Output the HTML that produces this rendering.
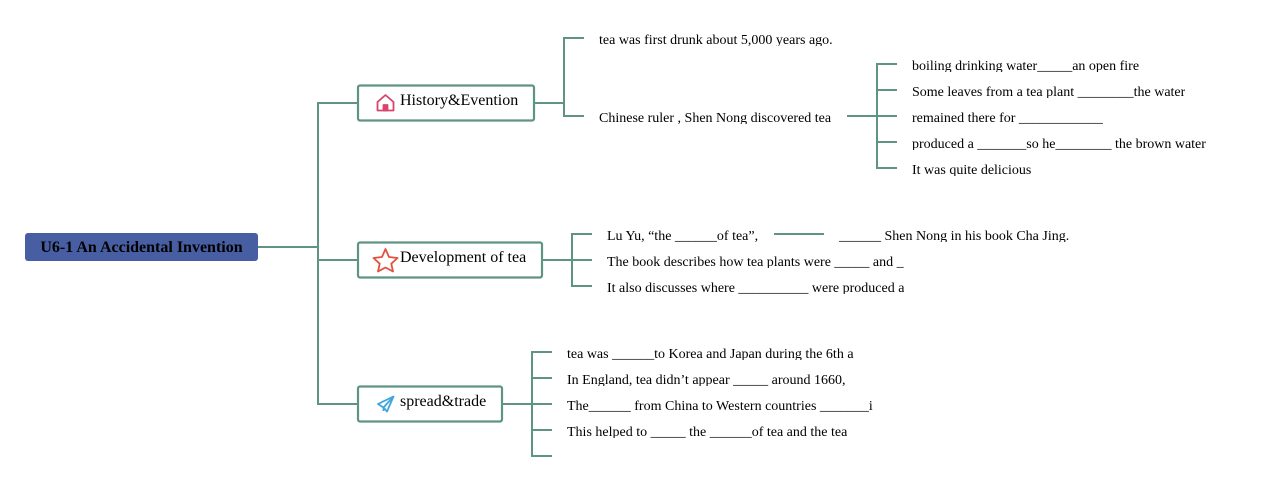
<!DOCTYPE html>
<html>
<head>
<meta charset="utf-8">
<style>
html,body{margin:0;padding:0;background:#fff;width:1266px;height:481px;overflow:hidden}
body{position:relative;font-family:"Liberation Serif",serif;color:#000}
svg{position:absolute;left:0;top:0}
.t{position:absolute;font-size:14px;line-height:16px;height:13px;overflow:hidden;white-space:pre;color:#000}
.c{position:absolute;font-size:16px;line-height:18px;white-space:pre;color:#000}
.root{position:absolute;left:25px;top:233px;width:233px;height:28px;background:#475ea3;border-radius:3px;font-weight:bold;font-size:16px;line-height:29px;text-align:center;color:#000;white-space:pre}
</style>
</head>
<body>
<svg width="1266" height="481" viewBox="0 0 1266 481" fill="none">
<g stroke="#5f9484" stroke-width="2">
<path d="M258 247H318M358 103H318V404H358M318 260H358"/>
<path d="M534 103H564M584 38H564V116H584"/>
<path d="M847 116H897M897 64H877V168H897M877 90H897M877 142H897M877 168H897"/>
<path d="M542 260H592M592 234H572V286H592"/>
<path d="M774 234H824"/>
<path d="M502 404H552M552 352H532V456H552M532 378H552M532 430H552"/>
<rect x="358" y="85.500" width="176" height="35" rx="2" stroke-width="2.200"/>
<rect x="358" y="242.500" width="184" height="35" rx="2" stroke-width="2.200"/>
<rect x="358" y="386.500" width="144" height="35" rx="2" stroke-width="2.200"/>
</g>
<g stroke="#d9446c" stroke-width="1.800" stroke-linejoin="round">
<path d="M377.500 102L385.500 95L393.500 102V110.500H377.500Z"/>
<path d="M383.500 110.500V105H387.500V110.500Z" fill="#d9446c"/>
</g>
<path d="M385.500 249L389 257L397.500 258L391.300 263.700L393 271.500L385.500 267.500L378 271.500L379.700 263.700L373.500 258L382 257Z" stroke="#e2503f" stroke-width="1.800" stroke-linejoin="round"/>
<g stroke="#3ea6dc" stroke-width="1.800" stroke-linejoin="round">
<path d="M393.500 396.500L378 404L383.500 407.500L387 411.500L393.500 396.500Z"/>
<path d="M393.500 396.500L383.500 407.500V411"/>
</g>
</svg>

<div class="root">U6-1 An Accidental Invention</div>

<div class="c" style="left:400px;top:92px">History&amp;Evention</div>
<div class="c" style="left:400px;top:249px">Development of tea</div>
<div class="c" style="left:400px;top:393px">spread&amp;trade</div>

<div class="t" style="left:599px;top:33px">tea was first drunk about 5,000 years ago.</div>
<div class="t" style="left:599px;top:111px">Chinese ruler , Shen Nong discovered tea</div>

<div class="t" style="left:912px;top:59px">boiling drinking water_____an open fire</div>
<div class="t" style="left:912px;top:85px">Some leaves from a tea plant ________the water</div>
<div class="t" style="left:912px;top:111px">remained there for ____________</div>
<div class="t" style="left:912px;top:137px">produced a _______so he________ the brown water</div>
<div class="t" style="left:912px;top:163px">It was quite delicious</div>

<div class="t" style="left:607px;top:229px">Lu Yu, “the ______of tea”,</div>
<div class="t" style="left:839px;top:229px">______ Shen Nong in his book Cha Jing.</div>
<div class="t" style="left:607px;top:255px">The book describes how tea plants were _____ and _</div>
<div class="t" style="left:607px;top:281px">It also discusses where __________ were produced a</div>

<div class="t" style="left:567px;top:347px">tea was ______to Korea and Japan during the 6th a</div>
<div class="t" style="left:567px;top:373px">In England, tea didn’t appear _____ around 1660,</div>
<div class="t" style="left:567px;top:399px">The______ from China to Western countries _______i</div>
<div class="t" style="left:567px;top:425px">This helped to _____ the ______of tea and the tea</div>
</body>
</html>
